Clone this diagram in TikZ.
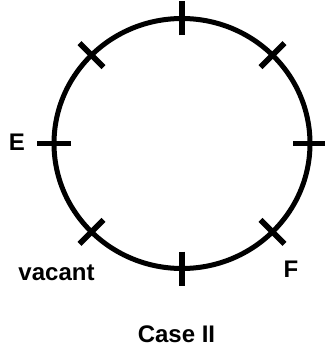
\documentclass[tikz,border=0pt]{standalone}
\usepackage{fontspec}
\setmainfont{Liberation Sans}
\usepackage{tikz}
\newcommand{\labelfont}{\fontsize{24}{26}\selectfont\bfseries}

\begin{document}
\begin{tikzpicture}[x=1pt, y=-1pt, every node/.style={font=\labelfont, inner sep=0pt}, ring/.style={line width=5pt}, tickmark/.style={line width=5.5pt}]
  \useasboundingbox (0,0) rectangle (324,347);
  \coordinate (o) at (182,143.5);

  \draw[ring] (o) ellipse [x radius=128, y radius=125];
  \foreach \a in {0,45,...,315}
    \draw[tickmark, shift={(o)}] (\a:111 and 108) -- (\a:145 and 142);

  \node[anchor=base] (e) at (17,151) {E};
  \node[anchor=base] (vacant) at (56.5,280) {vacant};
  \node[anchor=base] (f) at (291,277) {F};
  \node[anchor=base] (caption) at (176.5,342) {Case II};
\end{tikzpicture}
\end{document}
